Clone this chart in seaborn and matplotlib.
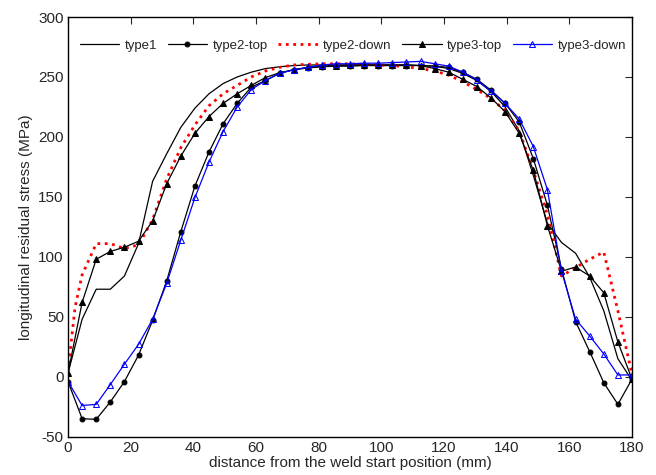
import matplotlib
matplotlib.use('Agg')
import matplotlib.pyplot as plt
import seaborn as sns

# posiciones de medida (mm)
x = [0, 4.5, 9, 13.5, 18, 22.5, 27, 31.5, 36, 40.5, 45, 49.5, 54, 58.5, 63, 67.5,
     72, 76.5, 81, 85.5, 90, 94.5, 99, 103.5, 108, 112.5, 117, 121.5, 126, 130.5,
     135, 139.5, 144, 148.5, 153, 157.5, 162, 166.5, 171, 175.5, 180]

type1 = [3, 48, 73, 73, 84, 111, 163, 186, 208, 224, 236, 244.5, 250, 254, 257, 258.5,
         259.5, 260, 260, 260, 260, 260, 260, 260, 260, 259.5, 259, 257, 253, 247,
         238, 225, 205, 168, 128, 112, 103, 83, 55, 15, -3]

type2_top = [-4, -35, -35.5, -21, -4, 18, 47, 80, 121, 159, 187.5, 211, 228, 241.5, 247, 253,
             256, 257.5, 258.5, 259, 259, 259.5, 259.5, 259.5, 259.5, 259.5, 259, 258, 254, 248,
             239, 228, 212.5, 182, 143, 90, 46, 21, -5, -23, -2]

type3_top = [3, 62, 98, 104.5, 108, 113, 130, 161, 184, 203, 217, 228, 236, 243, 249.5, 253.5,
             256, 258, 259, 259.5, 260, 260, 260, 260, 260, 259.5, 257, 254, 248, 242,
             232.5, 221, 203, 172, 126, 88, 91.5, 84, 70, 29, -2]

type3_down = [-4, -24, -23, -6.5, 10.5, 27, 48, 78, 114, 149.5, 179, 204.5, 225, 239.5, 247, 253,
              256, 258, 260, 261, 261, 261.5, 261.5, 262, 262.5, 263, 261, 259, 254, 247.5,
              238, 228, 215, 192, 156, 88, 48, 34, 19, 1.5, 1.5]

x_down = [0, 2.25, 4.5, 9, 13.5, 18, 22.5, 27, 31.5, 36, 40.5, 45, 49.5, 54, 58.5, 63, 67.5,
          72, 76.5, 81, 85.5, 90, 94.5, 99, 103.5, 108, 112.5, 117, 121.5, 126, 130.5,
          135, 139.5, 144, 148.5, 153, 157.5, 162, 166.5, 171, 175.5, 180]
type2_down = [5, 58, 85, 111, 111, 107, 110, 131, 165, 191, 210, 226, 236, 243, 250, 255, 258,
              260, 260.5, 261, 261, 261, 260.5, 260, 259.5, 258.5, 257, 255, 251.5, 246, 239.5,
              232, 222, 205, 172, 135, 84, 91, 98, 104, 55, 2]

sns.set_style('white')
plt.rcParams['font.family'] = ['Liberation Sans', 'DejaVu Sans']
plt.rcParams['xtick.direction'] = 'in'
plt.rcParams['ytick.direction'] = 'in'
plt.rcParams['axes.unicode_minus'] = False

fig = plt.figure(figsize=(6.56, 4.75), dpi=100)
ax = fig.add_axes([0.1037, 0.0806, 0.8597, 0.8836])

sns.lineplot(x=x, y=type1, ax=ax, color='black', linewidth=0.9, label='type1')
sns.lineplot(x=x, y=type2_top, ax=ax, color='black', linewidth=0.9, marker='o',
             markersize=3.5, markeredgecolor='black', label='type2-top')
sns.lineplot(x=x_down, y=type2_down, ax=ax, color='red', linewidth=2, linestyle=':',
             label='type2-down')
sns.lineplot(x=x, y=type3_top, ax=ax, color='black', linewidth=0.9, marker='^',
             markersize=5, markeredgecolor='black', label='type3-top')
sns.lineplot(x=x, y=type3_down, ax=ax, color='blue', linewidth=0.9, marker='^',
             markersize=5, markerfacecolor='none', markeredgecolor='blue', label='type3-down')

ax.set_xlim(0, 180)
ax.set_ylim(-50, 300)
ax.set_xticks(range(0, 181, 20))
ax.set_yticks(range(-50, 301, 50))
ax.tick_params(labelsize=11, top=True, right=True, length=5, width=0.8, pad=3)
for s in ax.spines.values():
    s.set_linewidth(1)
    s.set_color('black')

ax.set_xlabel('distance from the weld start position (mm)', fontsize=11, labelpad=1)
ax.set_ylabel('longitudinal residual stress (MPa)', fontsize=11, labelpad=4)

ax.legend(loc='upper center', bbox_to_anchor=(0.505, 0.975), ncol=5, frameon=False,
          fontsize=9.5, handlelength=3, handletextpad=0.4, columnspacing=0.8)

plt.savefig('out.png', dpi=100)
